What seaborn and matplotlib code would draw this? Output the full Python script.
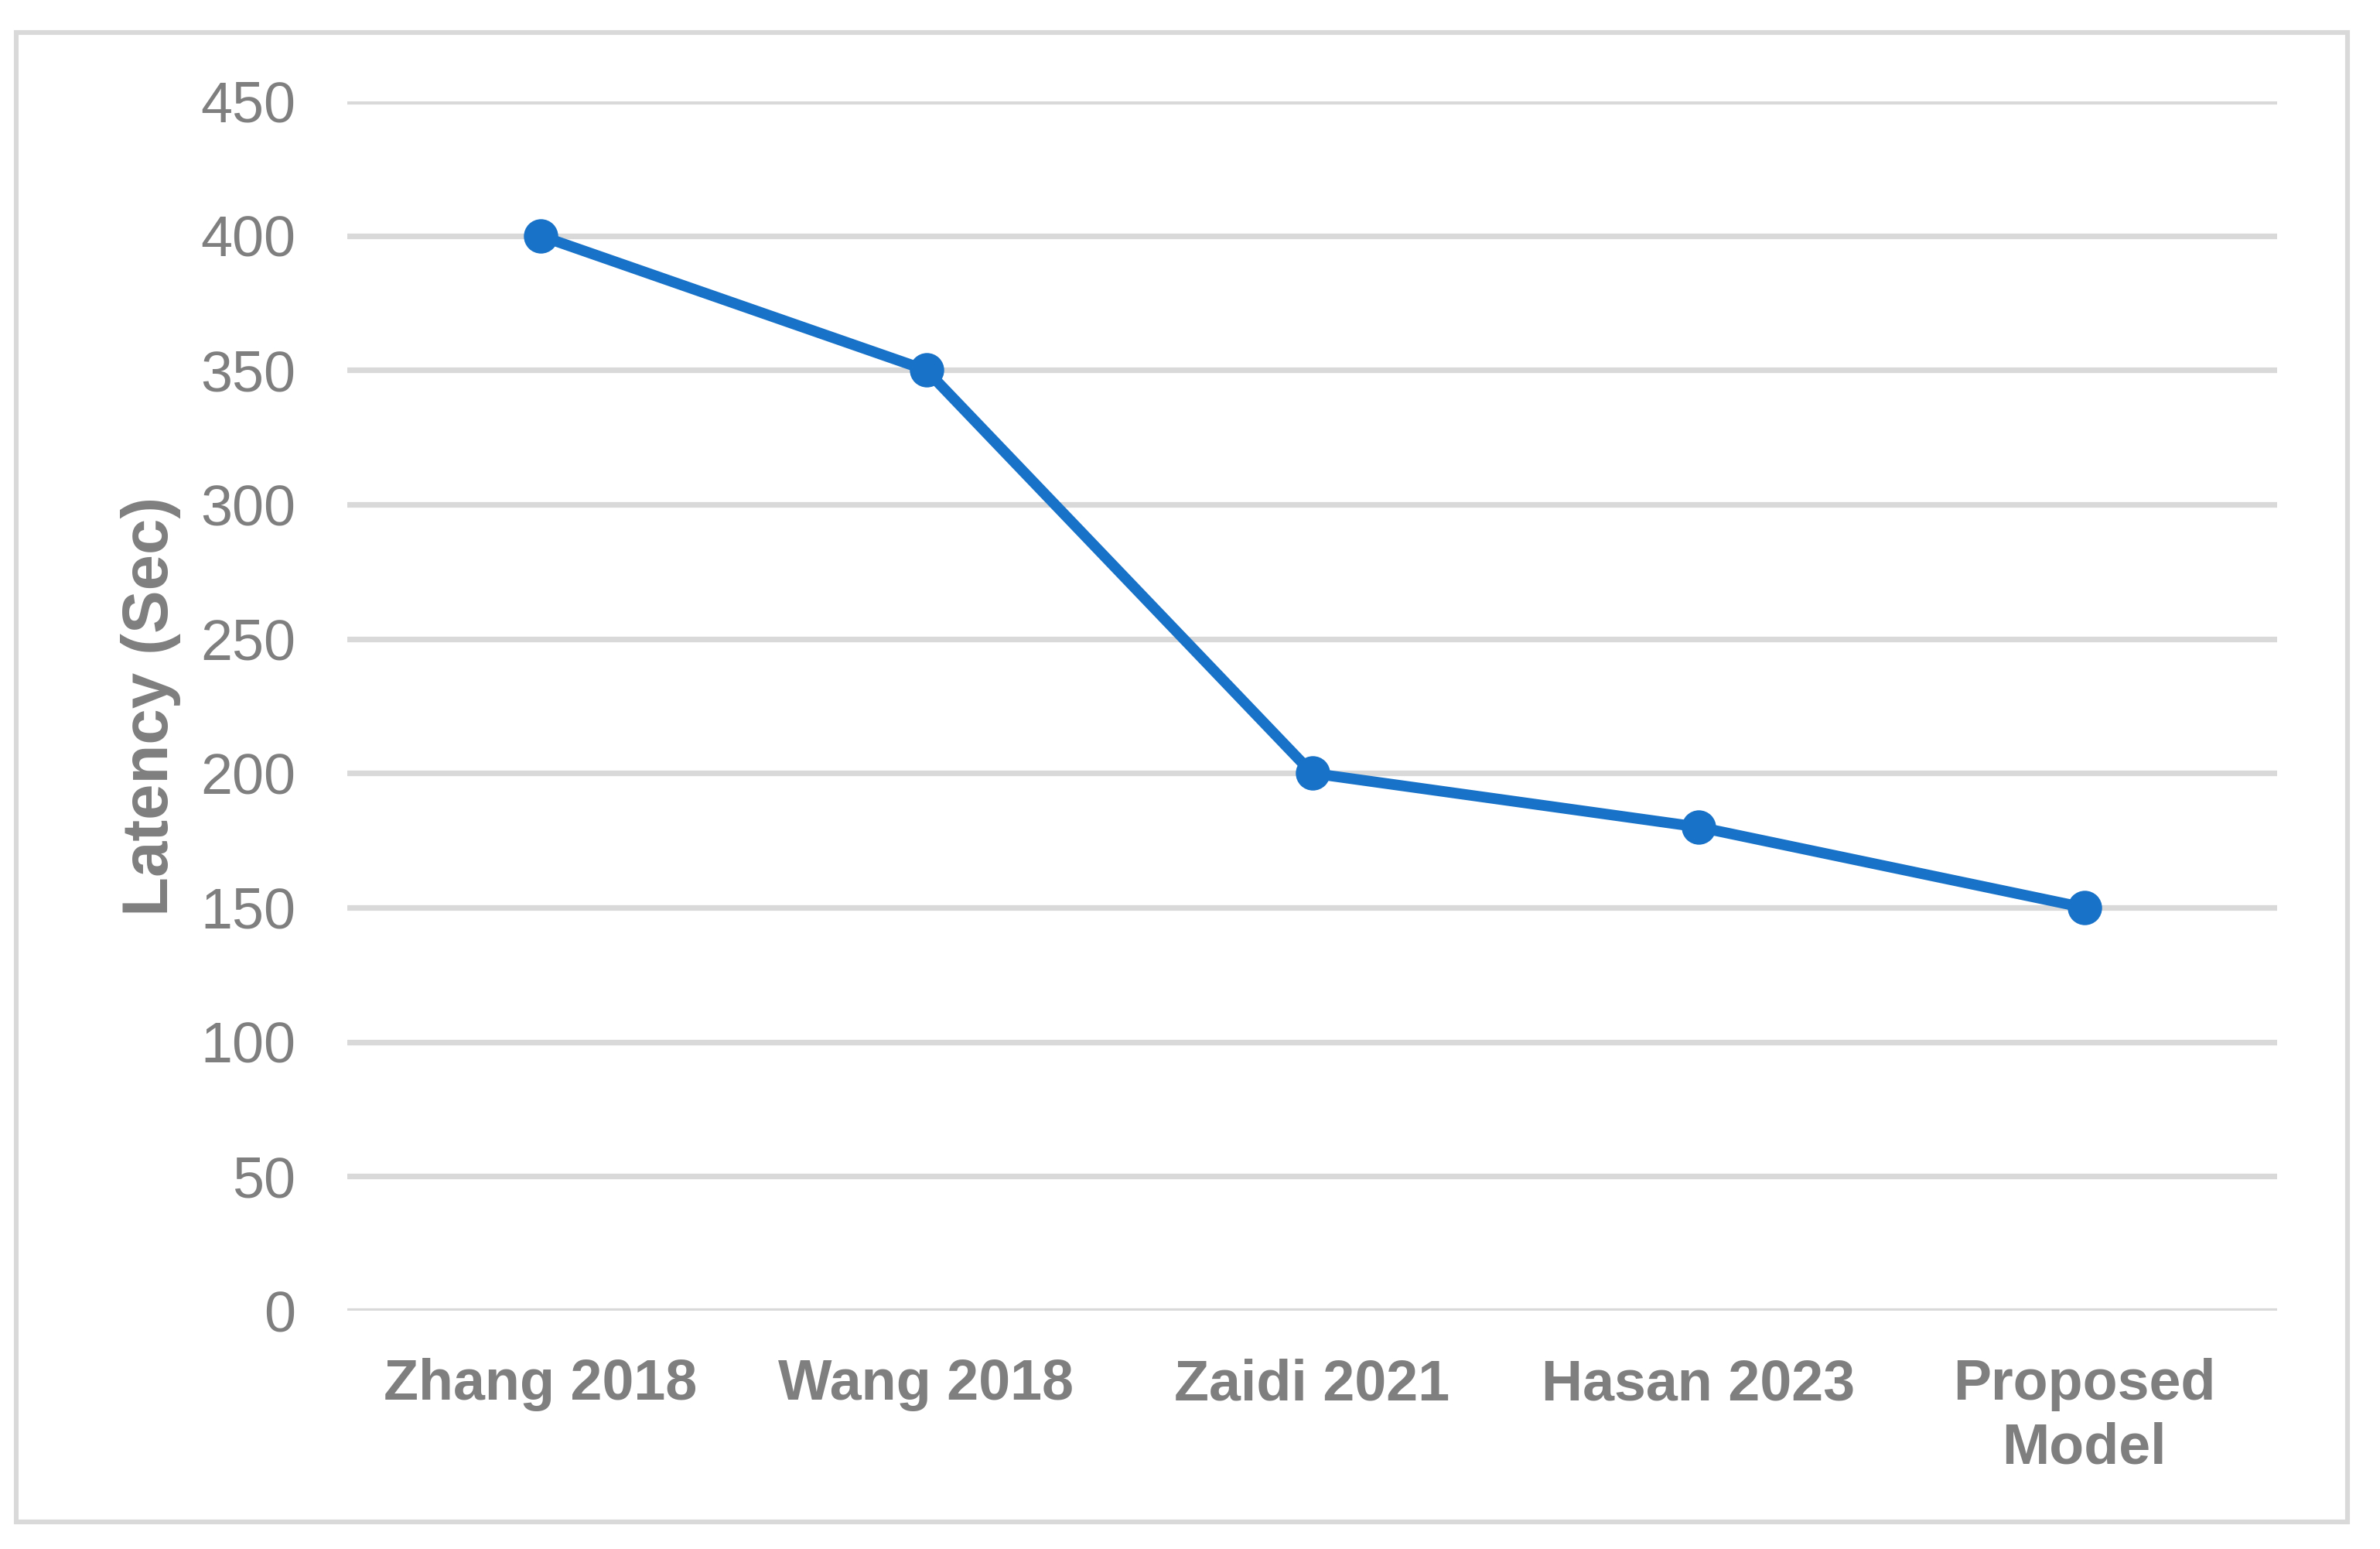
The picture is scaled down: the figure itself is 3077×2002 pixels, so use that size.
"""Latency comparison line chart."""

import matplotlib

matplotlib.use("Agg")
import matplotlib.pyplot as plt
import pandas as pd
import seaborn as sns
from matplotlib.patches import Rectangle

# data
models = ["Zhang 2018", "Wang 2018", "Zaidi 2021", "Hasan 2023", "Proposed\nModel"]
latency = [400, 350, 200, 180, 150]
y_ticks = [0, 50, 100, 150, 200, 250, 300, 350, 400, 450]

LINE = "#1872C7"
GREY = "#7F7F7F"
GRID = "#D9D9D9"

sns.set_theme(style="white")
plt.rcParams["font.family"] = ["Liberation Sans", "DejaVu Sans"]

df = pd.DataFrame({"model": models, "latency": latency})

fig = plt.figure(figsize=(3077 / 200, 2002 / 200), dpi=200)
ax = fig.add_axes([449 / 3077, 1 - 1694 / 2002, (2944 - 449) / 3077, (1694 - 131) / 2002])

sns.lineplot(
    data=df,
    x="model",
    y="latency",
    sort=False,
    color=LINE,
    linewidth=5,
    marker="o",
    markersize=16,
    markeredgewidth=0,
    ax=ax,
    zorder=3,
)

ax.set_xlim(-0.5, len(models) - 0.5)
ax.set_ylim(0, 450)
ax.set_yticks(y_ticks)
ax.yaxis.grid(True, color=GRID, linewidth=2.6)
ax.set_axisbelow(True)
for spine in ax.spines.values():
    spine.set_visible(False)

ax.tick_params(axis="y", length=0, pad=24, labelsize=26.5, labelcolor=GREY)
ax.tick_params(axis="x", length=0, pad=22, labelsize=26.5, labelcolor=GREY)
for lbl in ax.get_xticklabels():
    lbl.set_fontweight("bold")
    lbl.set_linespacing(1.25)

ax.set_xlabel("")
ax.set_ylabel("Latency (Sec)", fontsize=30, fontweight="bold", color=GREY, labelpad=9)

# outer chart border
fig.patches.append(
    Rectangle(
        (21 / 3077, 1 - 1967 / 2002),
        (3035 - 21) / 3077,
        (1967 - 42) / 2002,
        transform=fig.transFigure,
        fill=False,
        edgecolor=GRID,
        linewidth=2.2,
    )
)

fig.savefig("out.png", dpi=200, facecolor="white")
